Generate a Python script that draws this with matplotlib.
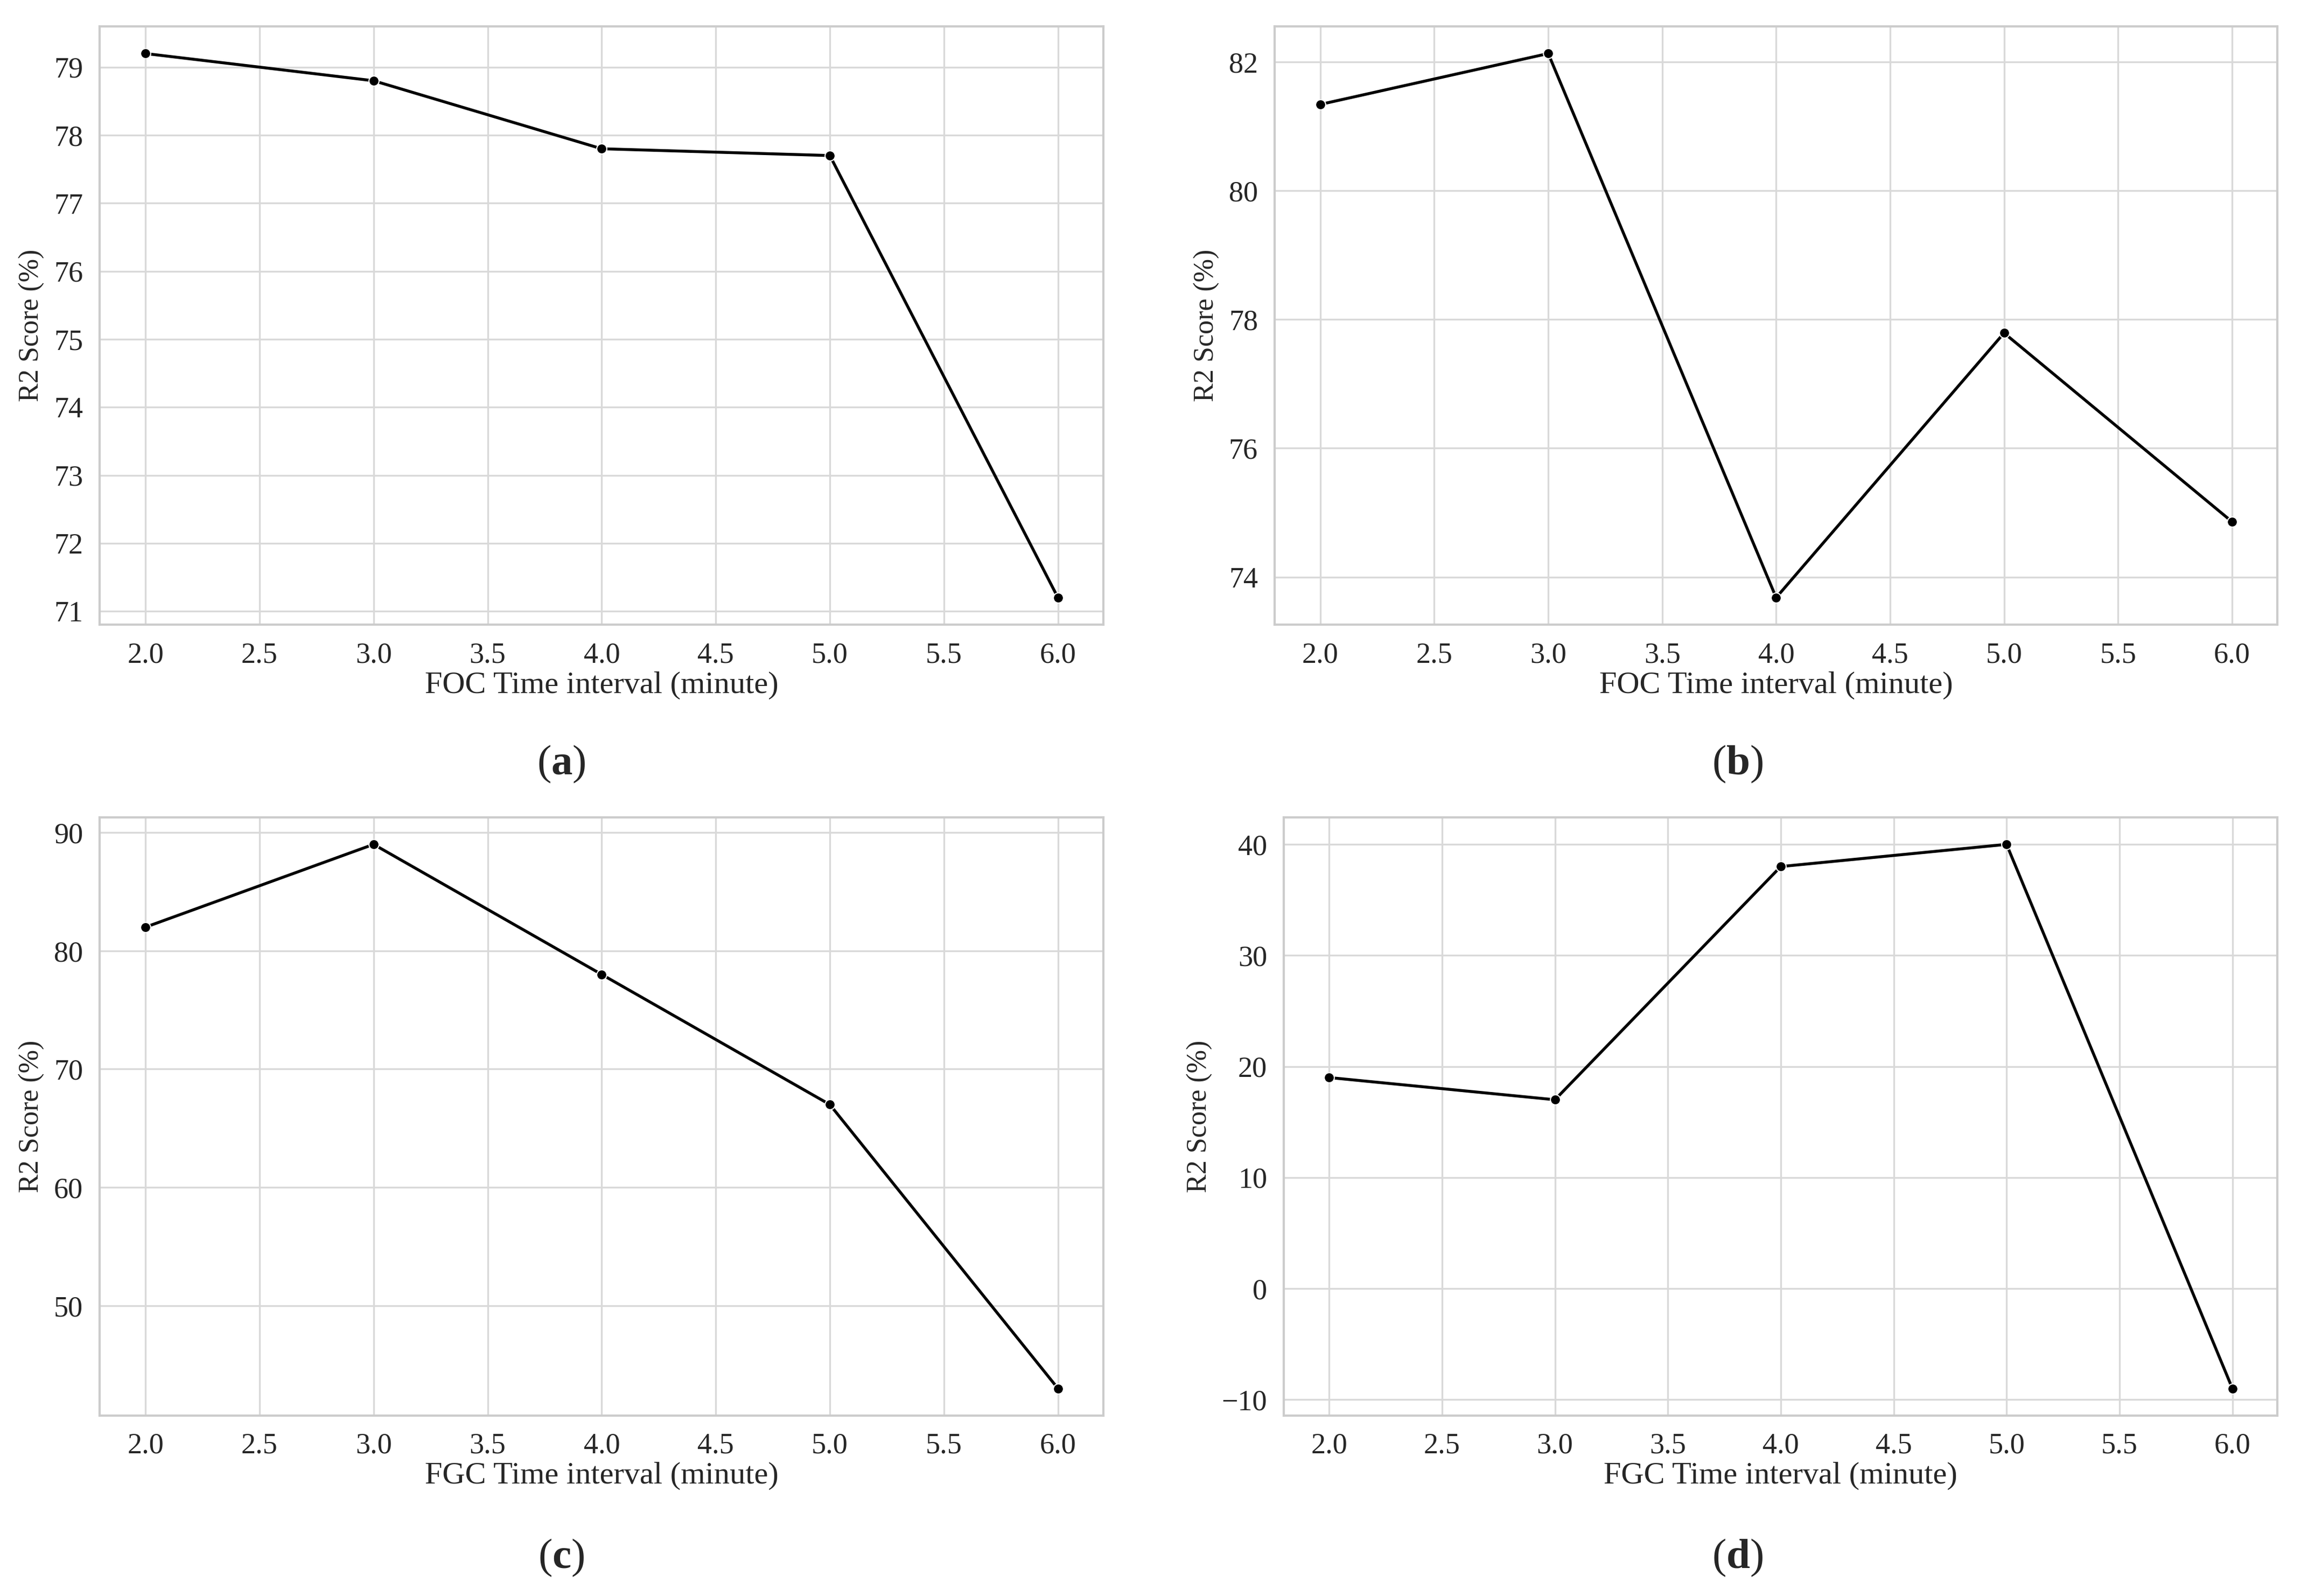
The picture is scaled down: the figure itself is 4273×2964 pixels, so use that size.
import matplotlib
matplotlib.use("Agg")
import matplotlib.pyplot as plt
import seaborn as sns

sns.set_style("whitegrid")
plt.rcParams["font.family"] = ["Liberation Serif", "DejaVu Serif"]
plt.rcParams["mathtext.fontset"] = "custom"
plt.rcParams["mathtext.rm"] = "Liberation Serif"
plt.rcParams["mathtext.bf"] = "Liberation Serif:bold"

# time intervals (minutes)
intervals = [2.0, 3.0, 4.0, 5.0, 6.0]

# R2 scores (%) per panel
foc_a = [79.2, 78.8, 77.8, 77.7, 71.2]
foc_b = [81.34, 82.13, 73.68, 77.79, 74.86]
fgc_c = [82.0, 89.0, 78.0, 67.0, 43.0]
fgc_d = [19.0, 17.0, 38.0, 40.0, -9.0]

xlabels = ["FOC Time interval (minute)", "FOC Time interval (minute)",
           "FGC Time interval (minute)", "FGC Time interval (minute)"]
panel_tags = ["a", "b", "c", "d"]
series = [foc_a, foc_b, fgc_c, fgc_d]

fig = plt.figure(figsize=(4273 / 300, 2964 / 300), dpi=300)

# axes rectangles [left, bottom, width, height]
rects = [
    [0.0434, 0.6085, 0.4362, 0.3750],
    [0.5540, 0.6085, 0.4358, 0.3750],
    [0.0434, 0.1130, 0.4362, 0.3750],
    [0.5580, 0.1130, 0.4318, 0.3750],
]
tag_pos = [(0.244, 0.521), (0.755, 0.521), (0.244, 0.024), (0.755, 0.024)]

for rect, y, xl, tag, tp in zip(rects, series, xlabels, panel_tags, tag_pos):
    ax = fig.add_axes(rect)
    ax.plot(intervals, y, color="black", linewidth=1.3, marker="o",
            markersize=4.5, markeredgecolor="white", markeredgewidth=0.5)
    ax.set_xlabel(xl, fontsize=14, labelpad=1)
    ax.set_ylabel("R2 Score (%)", fontsize=12.5, labelpad=4)
    ax.tick_params(axis="both", labelsize=13, pad=4)
    ax.set_xticks([2.0, 2.5, 3.0, 3.5, 4.0, 4.5, 5.0, 5.5, 6.0])
    ax.set_xticklabels(["2.0", "2.5", "3.0", "3.5", "4.0", "4.5", "5.0", "5.5", "6.0"])
    for s in ax.spines.values():
        s.set_color("#cccccc")
        s.set_linewidth(1.0)
    ax.grid(color="#d9d9d9", linewidth=0.8)
    fig.text(tp[0], tp[1], "(" + r"$\mathbf{" + tag + "}$" + ")",
             fontsize=19, ha="center", va="center")

fig.savefig("out.png", dpi=300)
